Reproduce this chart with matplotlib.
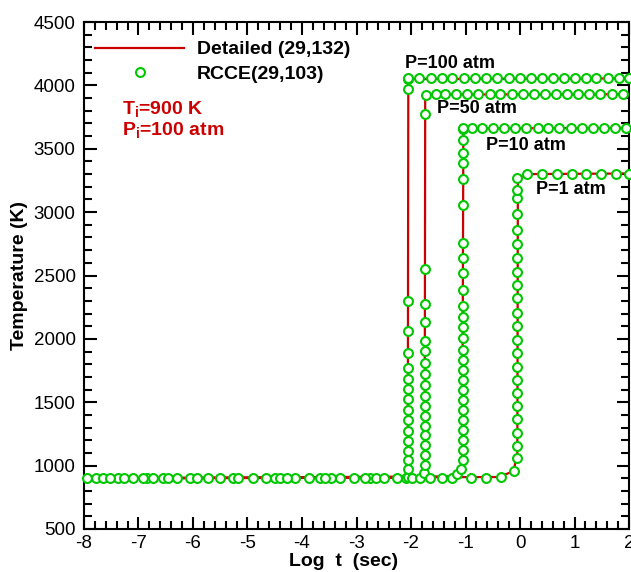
import matplotlib
matplotlib.use("Agg")
import matplotlib.pyplot as plt
from matplotlib.lines import Line2D

plt.rcParams['font.family'] = ['Liberation Sans', 'DejaVu Sans']
plt.rcParams['axes.unicode_minus'] = False
plt.rcParams['mathtext.fontset'] = 'custom'
plt.rcParams['mathtext.rm'] = 'Liberation Sans'
plt.rcParams['mathtext.bf'] = 'Liberation Sans:bold'

# ---------------- data ----------------
pressures = ["P=100 atm", "P=50 atm", "P=10 atm", "P=1 atm"]

# Detailed mechanism (29 species, 132 reactions) - line
det_100_t = [-8.0, -2.08, -2.06, -2.05, 2.0]
det_100_T = [900, 905, 1000, 4050, 4055]
det_50_t = [-8.0, -1.78, -1.75, -1.74, 2.0]
det_50_T = [900, 905, 1000, 3928, 3930]
det_10_t = [-8.0, -1.15, -1.06, -1.04, 2.0]
det_10_T = [900, 915, 1000, 3660, 3665]
det_1_t = [-8.0, -0.40, -0.12, -0.05, -0.04, 0.10, 2.0]
det_1_T = [900, 910, 955, 1100, 3260, 3300, 3305]

# RCCE (29 species, 103 reactions) - markers
rcce_100_t = [-7.94, -7.37, -6.85, -6.30, -5.51, -4.66, -4.12, -3.47, -2.75, -2.10,
              -2.06, -2.06, -2.06, -2.06, -2.06, -2.06, -2.06, -2.06, -2.06, -2.06,
              -2.06, -2.06, -2.06, -2.06, -2.06, -2.06, -2.06,
              -2.05, -1.85, -1.64, -1.44, -1.24, -1.03, -0.83, -0.62, -0.43, -0.21,
              -0.01, 0.20, 0.40, 0.60, 0.80, 1.01, 1.21, 1.40, 1.62, 1.82, 2.00]
rcce_100_T = [900, 900, 900, 900, 900, 900, 900, 900, 900, 905,
              912, 971, 1044, 1117, 1196, 1275, 1359, 1438, 1523, 1602,
              1683, 1767, 1886, 2064, 2300, 3968, 4054,
              4055, 4055, 4055, 4055, 4055, 4055, 4055, 4055, 4055, 4055,
              4055, 4055, 4055, 4055, 4055, 4055, 4055, 4055, 4055, 4055, 4055]

rcce_50_t = [-7.77, -7.27, -6.73, -6.06, -5.27, -4.50, -3.87, -3.30, -2.64, -1.99, -1.83,
             -1.76, -1.75, -1.75, -1.75, -1.75, -1.75, -1.75, -1.75, -1.75, -1.75,
             -1.75, -1.75, -1.75, -1.75, -1.75, -1.75, -1.75, -1.75,
             -1.73, -1.55, -1.38, -1.17, -0.97, -0.77, -0.56, -0.36, -0.15, 0.05,
             0.25, 0.46, 0.66, 0.86, 1.07, 1.27, 1.47, 1.68, 1.88]
rcce_50_T = [900, 900, 900, 900, 900, 900, 900, 900, 900, 902, 905,
             939, 1004, 1083, 1162, 1239, 1312, 1391, 1470, 1549, 1636,
             1722, 1807, 1906, 1985, 2135, 2272, 2548, 3773,
             3928, 3930, 3930, 3930, 3930, 3930, 3930, 3930, 3930, 3930,
             3930, 3930, 3930, 3930, 3930, 3930, 3930, 3930, 3930]

rcce_10_t = [-7.65, -7.10, -6.55, -5.93, -5.18, -4.40, -3.67, -3.05, -2.50, -1.66, -1.44, -1.25,
             -1.16, -1.09,
             -1.05, -1.05, -1.05, -1.05, -1.05, -1.05, -1.05, -1.05, -1.05, -1.05,
             -1.05, -1.05, -1.05, -1.05, -1.05, -1.05, -1.05, -1.05, -1.05, -1.05,
             -1.05, -1.05, -1.05, -1.05, -1.05, -1.05,
             -1.04, -0.89, -0.70, -0.49, -0.29, -0.09, 0.11, 0.32, 0.52, 0.72,
             0.93, 1.13, 1.33, 1.54, 1.74, 1.94]
rcce_10_T = [900, 900, 900, 900, 900, 900, 900, 900, 900, 905, 905, 905,
             935, 975,
             1044, 1122, 1201, 1280, 1359, 1438, 1517, 1596, 1675, 1754,
             1833, 1912, 2004, 2095, 2174, 2256, 2385, 2516, 2635, 2753,
             3055, 3258, 3389, 3463, 3568, 3652,
             3665, 3665, 3665, 3665, 3665, 3665, 3665, 3665, 3665, 3665,
             3665, 3665, 3665, 3665, 3665, 3665]

rcce_1_t = [-7.52, -6.91, -6.45, -5.72, -4.90, -4.28, -3.58, -2.84, -2.25, -0.90, -0.62, -0.35,
            -0.12,
            -0.05, -0.05, -0.05, -0.05, -0.05, -0.05, -0.05, -0.05, -0.05, -0.05,
            -0.05, -0.05, -0.05, -0.05, -0.05, -0.05, -0.05, -0.05, -0.05, -0.05,
            -0.05, -0.05,
            0.12, 0.40, 0.67, 0.95, 1.21, 1.48, 1.76, 1.99]
rcce_1_T = [900, 900, 900, 900, 900, 900, 900, 900, 900, 905, 905, 912,
            955,
            1058, 1155, 1259, 1365, 1470, 1570, 1675, 1780, 1886, 1990,
            2103, 2206, 2319, 2424, 2529, 2640, 2748, 2858, 2984, 3108,
            3173, 3266,
            3302, 3303, 3303, 3303, 3303, 3303, 3303, 3303]

x_ticks = [-8, -7, -6, -5, -4, -3, -2, -1, 0, 1, 2]
y_ticks = [500, 1000, 1500, 2000, 2500, 3000, 3500, 4000, 4500]

# ---------------- plot ----------------
RED = '#cc0000'
GREEN = '#00c800'

fig = plt.figure(figsize=(6.31, 5.72), dpi=100)
ax = fig.add_axes([0.133, 0.0752, 0.864, 0.8863])

det = [(det_100_t, det_100_T), (det_50_t, det_50_T), (det_10_t, det_10_T), (det_1_t, det_1_T)]
rcce = [(rcce_100_t, rcce_100_T), (rcce_50_t, rcce_50_T), (rcce_10_t, rcce_10_T), (rcce_1_t, rcce_1_T)]

for t, T in det:
    ax.plot(t, T, color=RED, lw=1.6, zorder=2)
for t, T in rcce:
    ax.plot(t, T, ls='none', marker='o', ms=6.4, mew=1.5, mec=GREEN, mfc='white',
            zorder=3, clip_on=False)

ax.set_xlim(-8, 2)
ax.set_ylim(500, 4500)
ax.set_xticks(x_ticks)
ax.set_yticks(y_ticks)
ax.set_xticks([v / 10 for v in range(-80, 21, 2)], minor=True)
ax.set_yticks(list(range(500, 4501, 100)), minor=True)
ax.tick_params(which='both', direction='in', top=True, right=True, width=1.5,
               labelsize=13.5, colors='black')
ax.tick_params(which='major', length=9)
ax.tick_params(which='minor', length=5.5)
ax.tick_params(axis='x', pad=4.5)
ax.tick_params(axis='y', pad=6)
for sp in ax.spines.values():
    sp.set_linewidth(1.5)

ax.set_xlabel('Log  t  (sec)', fontsize=14, fontweight='bold')
ax.xaxis.set_label_coords(0.477, -0.047)
ax.set_ylabel('Temperature (K)', fontsize=14, fontweight='bold', labelpad=4)

# annotations
ann_x = [-2.11, -1.53, -0.62, 0.29]
ann_y = [4172, 3816, 3528, 3178]
for lab, xx, yy in zip(pressures, ann_x, ann_y):
    ax.text(xx, yy, lab, fontsize=13, fontweight='bold', ha='left', va='center', zorder=5)

ax.text(0.0697, 0.826, r'T$_\mathbf{i}$=900 K', transform=ax.transAxes, color=RED,
        fontsize=14, fontweight='bold', ha='left', va='center')
ax.text(0.0697, 0.786, r'P$_\mathbf{i}$=100 atm', transform=ax.transAxes, color=RED,
        fontsize=14, fontweight='bold', ha='left', va='center')

handles = [Line2D([], [], color=RED, lw=1.6),
           Line2D([], [], ls='none', marker='o', ms=6.4, mew=1.5, mec=GREEN, mfc='white')]
leg = ax.legend(handles, ['Detailed (29,132)', 'RCCE(29,103)'], loc='upper left',
                bbox_to_anchor=(0.020, 0.963), frameon=False, borderpad=0, borderaxespad=0,
                handlelength=4.6, handletextpad=0.65, labelspacing=0.36,
                prop={'size': 14, 'weight': 'bold'})

fig.savefig('out.png', dpi=100)
